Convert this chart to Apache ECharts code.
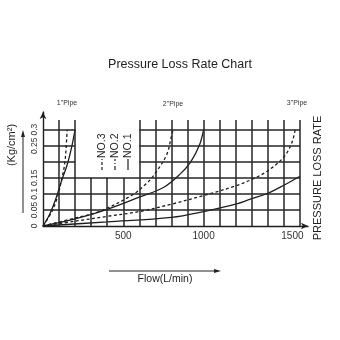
<!DOCTYPE html>
<html>
<head>
<meta charset="utf-8">
<script src="https://cdn.jsdelivr.net/npm/echarts@6/dist/echarts.min.js"></script>
<style>html,body{margin:0;padding:0;background:#fff}#c{width:340px;height:340px}</style>
</head>
<body>
<div id="c"></div>
<script>
// ---- data ----
var pipe1Solid  = [[0,0],[40,0.035],[80,0.085],[115,0.14],[150,0.19],[178,0.245],[200,0.3]];
var pipe1Dashed = [[0,0],[50,0.04],[90,0.09],[116,0.145],[134,0.19],[144,0.243],[150,0.3]];
var pipe2Solid  = [[0,0],[200,0.022],[400,0.052],[600,0.09],[750,0.12],[850,0.16],[920,0.2],[975,0.253],[1000,0.3]];
var pipe2Dashed = [[0,0],[200,0.025],[350,0.045],[550,0.095],[650,0.135],[700,0.165],[770,0.222],[800,0.28],[810,0.3]];
var pipe3Solid  = [[0,0],[400,0.013],[800,0.027],[1000,0.045],[1200,0.068],[1300,0.085],[1400,0.102],[1500,0.127],[1600,0.155]];
var pipe3Dashed = [[0,0],[200,0.015],[400,0.03],[600,0.045],[800,0.068],[1000,0.095],[1200,0.125],[1300,0.145],[1400,0.172],[1500,0.215],[1550,0.26],[1570,0.3]];
var xGrid = [100,200,300,400,500,600,700,800,900,1000,1100,1200,1300,1400,1500,1600];
var yGrid = [0.05,0.1,0.15,0.2,0.25,0.3];
var yLabels = ['0','0.05','0.1','0.15','0.25','0.3'];
var xLabels = ['500','1000','1500'];
var pipeLabels = ['1"Pipe','2"Pipe','3"Pipe'];
var legendNames = ['NO.3','NO.2','NO.1'];
var gridTop = 0.33;
var gapX = [200, 600], gapY = 0.15; // legend area without grid

var ink = '#1e1e1e';
var gridLines = [];
xGrid.forEach(function(x){
  var top = (x > gapX[0] && x < gapX[1]) ? gapY : gridTop;
  gridLines.push([{coord:[x,0]},{coord:[x,top]}]);
});
yGrid.forEach(function(y){
  if (y > gapY) {
    gridLines.push([{coord:[0,y]},{coord:[gapX[0],y]}]);
    gridLines.push([{coord:[gapX[1],y]},{coord:[1600,y]}]);
  } else {
    gridLines.push([{coord:[0,y]},{coord:[1600,y]}]);
  }
});

function curve(d, dashed){
  return {type:'line', data:d, smooth:0.35, showSymbol:false, silent:true,
    lineStyle:{color:ink, width:1.3, type: dashed ? [3,2.5] : 'solid'}};
}
var series = [
  {type:'line', data:[], silent:true,
   markLine:{silent:true, symbol:['none','none'], label:{show:false},
     lineStyle:{color:'#262626', width:1.5, type:'solid'}, data:gridLines}},
  curve(pipe1Solid,false), curve(pipe1Dashed,true),
  curve(pipe2Solid,false), curve(pipe2Dashed,true),
  curve(pipe3Solid,false), curve(pipe3Dashed,true)
];

function legendItem(x, name, dash){
  return {type:'group', x:x, y:170, rotation:Math.PI/2, children:[
    {type:'line', shape:{x1:0,y1:0,x2:11,y2:0}, style:{stroke:ink, lineWidth:1.2, lineDash:dash}},
    {type:'text', x:12, y:0, style:{text:name, fill:ink, font:'10.5px "Liberation Sans", Arial', textVerticalAlign:'middle'}}
  ]};
}

var chart = echarts.init(document.getElementById('c'), null, {renderer:'canvas'});
chart.setOption({
  animation:false,
  backgroundColor:'#fff',
  title:{text:'Pressure Loss Rate Chart', left:175, top:53, textAlign:'center',
    textStyle:{fontSize:12.5, fontWeight:'normal', color:'#222', fontFamily:'"Liberation Sans", Arial'}},
  grid:{left:43, right:32, top:112, bottom:114},
  xAxis:{type:'value', min:0, max:1650, interval:500,
    axisLine:{show:true, lineStyle:{color:ink, width:1.4}, symbol:['none','arrow'], symbolSize:[5,7]},
    axisTick:{show:false}, splitLine:{show:false},
    axisLabel:{margin:5, color:'#333', fontSize:10, fontFamily:'"Liberation Sans", Arial',
      formatter:function(v){ var s=String(v); if(xLabels.indexOf(s)<0) return ''; return s==='1500' ? '{r|'+s+'}' : s; },
      rich:{r:{padding:[0,0,0,17], fontSize:10, color:'#333', fontFamily:'"Liberation Sans", Arial'}}}},
  yAxis:{type:'value', min:0, max:0.355, interval:0.05,
    axisLine:{show:true, lineStyle:{color:ink, width:1.4}, symbol:['none','arrow'], symbolSize:[5,7]},
    axisTick:{show:false}, splitLine:{show:false},
    axisLabel:{rotate:90, margin:4, color:'#333', fontSize:8.5, fontFamily:'"Liberation Sans", Arial',
      formatter:function(v){ var s=String(+v.toFixed(3)); return yLabels.indexOf(s)<0 ? '' : s; }}},
  series:series,
  graphic:[
    {type:'text', x:67, y:103, style:{text:pipeLabels[0], fill:'#333', font:'7px "Liberation Sans", Arial', textAlign:'center', textVerticalAlign:'middle'}},
    {type:'text', x:173, y:104, style:{text:pipeLabels[1], fill:'#333', font:'7px "Liberation Sans", Arial', textAlign:'center', textVerticalAlign:'middle'}},
    {type:'text', x:297, y:103, style:{text:pipeLabels[2], fill:'#333', font:'7px "Liberation Sans", Arial', textAlign:'center', textVerticalAlign:'middle'}},
    legendItem(102, legendNames[0], [3,2]),
    legendItem(115, legendNames[1], [4,2,1,2]),
    legendItem(128, legendNames[2], null),
    {type:'text', x:12, y:145, rotation:Math.PI/2, style:{text:'(Kg/cm²)', fill:'#222', font:'11px "Liberation Sans", Arial', textAlign:'center', textVerticalAlign:'middle'}},
    {type:'line', shape:{x1:23,y1:213,x2:23,y2:134}, style:{stroke:'#222', lineWidth:1}},
    {type:'polygon', shape:{points:[[23,130],[21,137],[25,137]]}, style:{fill:'#222'}},
    {type:'text', x:318, y:178, rotation:Math.PI/2, style:{text:'PRESSURE LOSS RATE', fill:'#222', font:'11px "Liberation Sans", Arial', textAlign:'center', textVerticalAlign:'middle'}},
    {type:'text', x:165, y:279, style:{text:'Flow(L/min)', fill:'#222', font:'10.5px "Liberation Sans", Arial', textAlign:'center', textVerticalAlign:'middle'}},
    {type:'line', shape:{x1:109,y1:271,x2:216,y2:271}, style:{stroke:'#222', lineWidth:1}},
    {type:'polygon', shape:{points:[[221,271],[214,269],[214,273]]}, style:{fill:'#222'}}
  ]
});
</script>
</body>
</html>
